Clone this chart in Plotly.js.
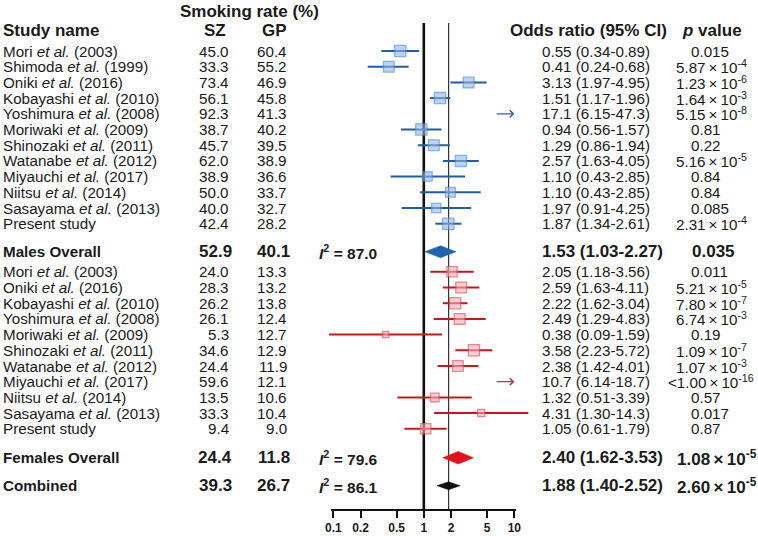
<!DOCTYPE html>
<html><head><meta charset="utf-8">
<script src="https://cdn.plot.ly/plotly-3.0.1.min.js"></script>
<style>html,body{margin:0;padding:0;background:#fff}#chart{width:758px;height:536px}</style>
</head><body><div id="chart"></div>
<script>
// ---------------- DATA ----------------
const maleStudies = ["Mori et al. (2003)","Shimoda et al. (1999)","Oniki et al. (2016)","Kobayashi et al. (2010)","Yoshimura et al. (2008)","Moriwaki et al. (2009)","Shinozaki et al. (2011)","Watanabe et al. (2012)","Miyauchi et al. (2017)","Niitsu et al. (2014)","Sasayama et al. (2013)","Present study"];
const maleSZ = ["45.0","33.3","73.4","56.1","92.3","38.7","45.7","62.0","38.9","50.0","40.0","42.4"];
const maleGP = ["60.4","55.2","46.9","45.8","41.3","40.2","39.5","38.9","36.6","33.7","32.7","28.2"];
const maleOR = [0.55,0.41,3.13,1.51,17.1,0.94,1.29,2.57,1.10,1.97,1.37,1.87];
const maleLo = [0.34,0.24,1.97,1.17,6.15,0.56,0.86,1.63,0.43,0.91,0.57,1.34];
const maleHi = [0.89,0.68,4.95,1.96,47.3,1.57,1.94,4.05,2.85,4.25,3.33,2.61];
const maleORText = ["0.55 (0.34-0.89)","0.41 (0.24-0.68)","3.13 (1.97-4.95)","1.51 (1.17-1.96)","17.1 (6.15-47.3)","0.94 (0.56-1.57)","1.29 (0.86-1.94)","2.57 (1.63-4.05)","1.10 (0.43-2.85)","1.10 (0.43-2.85)","1.97 (0.91-4.25)","1.87 (1.34-2.61)"];
const maleP = ["0.015","5.87e-4","1.23e-6","1.64e-3","5.15e-8","0.81","0.22","5.16e-5","0.84","0.84","0.085","2.31e-4"];

const femaleStudies = ["Mori et al. (2003)","Oniki et al. (2016)","Kobayashi et al. (2010)","Yoshimura et al. (2008)","Moriwaki et al. (2009)","Shinozaki et al. (2011)","Watanabe et al. (2012)","Miyauchi et al. (2017)","Niitsu et al. (2014)","Sasayama et al. (2013)","Present study"];
const femaleSZ = ["24.0","28.3","26.2","26.1","5.3","34.6","24.4","59.6","13.5","33.3","9.4"];
const femaleGP = ["13.3","13.2","13.8","12.4","12.7","12.9","11.9","12.1","10.6","10.4","9.0"];
const femaleOR = [2.05,2.59,2.22,2.49,0.38,3.58,2.38,10.7,1.32,4.31,1.05];
const femaleLo = [1.18,1.63,1.62,1.29,0.09,2.23,1.42,6.14,0.51,1.30,0.61];
const femaleHi = [3.56,4.11,3.04,4.83,1.59,5.72,4.01,18.7,3.39,14.3,1.79];
const femaleORText = ["2.05 (1.18-3.56)","2.59 (1.63-4.11)","2.22 (1.62-3.04)","2.49 (1.29-4.83)","0.38 (0.09-1.59)","3.58 (2.23-5.72)","2.38 (1.42-4.01)","10.7 (6.14-18.7)","1.32 (0.51-3.39)","4.31 (1.30-14.3)","1.05 (0.61-1.79)"];
const femaleP = ["0.011","5.21e-5","7.80e-7","6.74e-3","0.19","1.09e-7","1.07e-3","<1.00e-16","0.57","0.017","0.87"];

const pooledLabels = ["Males Overall","Females Overall","Combined"];
const pooledSZ = ["52.9","24.4","39.3"];
const pooledGP = ["40.1","11.8","26.7"];
const pooledI2 = ["87.0","79.6","86.1"];
const pooledOR = [1.53,2.40,1.88];
const pooledLo = [1.03,1.62,1.40];
const pooledHi = [2.27,3.53,2.52];
const pooledORText = ["1.53 (1.03-2.27)","2.40 (1.62-3.53)","1.88 (1.40-2.52)"];
const pooledP = ["0.035","1.08e-5","2.60e-5"];

const tickVals = [0.1,0.2,0.5,1,2,5,10];
const tickLabels = ["0.1","0.2","0.5","1","2","5","10"];

// ---------------- STYLE / LAYOUT ----------------
const W = 758, H = 536;
const FONT = "Liberation Sans, Arial, Helvetica, sans-serif";
const TXT = "#1a1a1a";
const FS = 15.2;
const PPD = 90.5, X1 = 423.8;           // px per decade, px of OR = 1
const AXIS_Y = 510, LINE_TOP = 23;
const AXIS_L = 331, AXIS_R = 516;
const X_CLIP = 10;
const ROW_H = 15.7;
const MALE_Y0 = 51, FEMALE_Y0 = 271.8;
const POOLED_Y = [251.7, 457.7, 485.7];
const maleSize = [12.5,12,12,12.5,0,12.5,12,12.5,10.5,11,10.5,12.5];
const femaleSize = [11.5,12,12.5,12,7.5,12.5,12,0,10,8.5,11.5];
const diamondHalf = [6, 6.3, 4];
const groupStyle = {
  male:   {fill:"rgba(146,182,228,0.85)", edge:"#5590d4", line:"#1f5ca6", arrow:"#2a64ad"},
  female: {fill:"rgba(246,174,182,0.85)", edge:"#e4505a", line:"#c8161f", arrow:"#d8262e"}
};
const pooledColor = ["#1e64b0","#e3101b","#111111"];

const px2v = p => Math.pow(10, (p - X1) / PPD);
const paperX = p => p / W;

const traces = [];
const annotations = [];

function txt(text, px, py, size, anchor, extra) {
  annotations.push(Object.assign({
    xref:"paper", yref:"y", x: paperX(px), y: py, text: text, showarrow:false,
    xanchor: anchor || "left", yanchor:"middle", borderpad:0,
    font:{family:FONT, size:size, color:TXT}
  }, extra || {}));
}
function fmtP(s) {
  let pre = "";
  if (s[0] === "<") { pre = "<"; s = s.slice(1); }
  if (s.indexOf("e") < 0) return pre + s;
  const parts = s.split("e");
  return pre + parts[0] + "\u2009×\u200910<sup>" + parts[1] + "</sup>";
}
function pLeft(s, bold) {
  if (s[0] === "<") return 667;
  if (s.indexOf("e") >= 0) return bold ? 676 : 674.5;
  return bold ? 690.5 : 690;
}
const italEtAl = s => s.replace("et al.", "<i>et al.</i>");

// vertical reference lines
traces.push({x:[1,1], y:[LINE_TOP, AXIS_Y], mode:"lines", line:{color:"#111", width:2.6}, hoverinfo:"skip"});
traces.push({x:[pooledOR[2], pooledOR[2]], y:[LINE_TOP, AXIS_Y], mode:"lines", line:{color:"#333", width:1.2}, hoverinfo:"skip"});
// axis baseline
traces.push({x:[px2v(AXIS_L), px2v(AXIS_R)], y:[AXIS_Y, AXIS_Y], mode:"lines", line:{color:"#111", width:2}, hoverinfo:"skip"});

function addGroup(key, studies, sz, gp, or, lo, hi, orText, pv, sizes, y0) {
  const st = groupStyle[key];
  const lx = [], ly = [], mx = [], my = [], ms = [];
  studies.forEach((name, i) => {
    const y = y0 + i * ROW_H;
    if (or[i] > X_CLIP) {
      annotations.push({xref:"x", yref:"y", axref:"x", ayref:"y",
        x: Math.log10(X_CLIP), y: y, ax: Math.log10(lo[i]), ay: y,
        text:"", showarrow:true, arrowhead:4, arrowsize:1.1, arrowwidth:1.2,
        arrowcolor: st.arrow, standoff:0, startstandoff:0});
    } else {
      lx.push(lo[i], hi[i], null); ly.push(y, y, null);
      mx.push(or[i]); my.push(y); ms.push(sizes[i] - 1.3);
    }
    txt(italEtAl(name), 1.5, y, FS, "left");
    txt(sz[i], 230, y, FS, "right");
    txt(gp[i], 287.5, y, FS, "right");
    txt(orText[i], 540.5, y, FS, "left");
    txt(fmtP(pv[i]), pLeft(pv[i], false), y, FS, "left");
  });
  traces.push({x:lx, y:ly, mode:"lines", line:{color:st.line, width:2}, hoverinfo:"skip"});
  traces.push({x:mx, y:my, mode:"markers", marker:{symbol:"square", size:ms, color:st.fill, line:{color:st.edge, width:1.3}}, hoverinfo:"skip"});
}
addGroup("male", maleStudies, maleSZ, maleGP, maleOR, maleLo, maleHi, maleORText, maleP, maleSize, MALE_Y0);
addGroup("female", femaleStudies, femaleSZ, femaleGP, femaleOR, femaleLo, femaleHi, femaleORText, femaleP, femaleSize, FEMALE_Y0);

// pooled rows
pooledLabels.forEach((lab, k) => {
  const y = POOLED_Y[k], h = diamondHalf[k];
  traces.push({x:[pooledLo[k], pooledOR[k], pooledHi[k], pooledOR[k], pooledLo[k]],
               y:[y, y - h, y, y + h, y], mode:"lines", fill:"toself",
               fillcolor: pooledColor[k], line:{color: pooledColor[k], width:0.5}, hoverinfo:"skip"});
  txt("<b>" + lab + "</b>", 1.5, y, 15.2, "left");
  txt("<b>" + pooledSZ[k] + "</b>", 233, y, 17, "right");
  txt("<b>" + pooledGP[k] + "</b>", 290.5, y, 17, "right");
  txt("<b><i>I</i><sup>2</sup> = " + pooledI2[k] + "</b>", 318, y, 15.5, "left");
  txt("<b>" + pooledORText[k] + "</b>", 540.5, y, 17, "left");
  txt("<b>" + fmtP(pooledP[k]) + "</b>", pLeft(pooledP[k], true), y, 17, "left");
});

// headers
txt("<b>Smoking rate (%)</b>", 249, 11, 17, "center");
txt("<b>Study name</b>", 1.5, 30, 17, "left");
txt("<b>SZ</b>", 215, 30, 17, "center");
txt("<b>GP</b>", 274, 30, 17, "center");
txt("<b>Odds ratio (95% CI)</b>", 509, 30, 17, "left");
txt("<b><i>p</i> value</b>", 681, 30, 17, "left");

const layout = {
  width: W, height: H,
  margin: {l:0, r:0, t:0, b:0},
  paper_bgcolor: "#fff", plot_bgcolor: "#fff",
  showlegend: false,
  xaxis: {
    type:"log", domain:[0,1],
    range:[(0 - X1) / PPD, (W - X1) / PPD],
    anchor:"free", position: (H - AXIS_Y) / H,
    showline:false, showgrid:false, zeroline:false,
    tickvals: tickVals, ticktext: tickLabels,
    ticks:"outside", ticklen:7, tickwidth:2, tickcolor:"#111",
    tickfont:{family:FONT, size:12, color:TXT, weight:"bold"}, ticklabelstandoff:0
  },
  yaxis: {range:[H, 0], domain:[0,1], visible:false, showgrid:false, zeroline:false},
  annotations: annotations
};
Plotly.newPlot("chart", traces, layout, {staticPlot:true, displayModeBar:false});
</script></body></html>
